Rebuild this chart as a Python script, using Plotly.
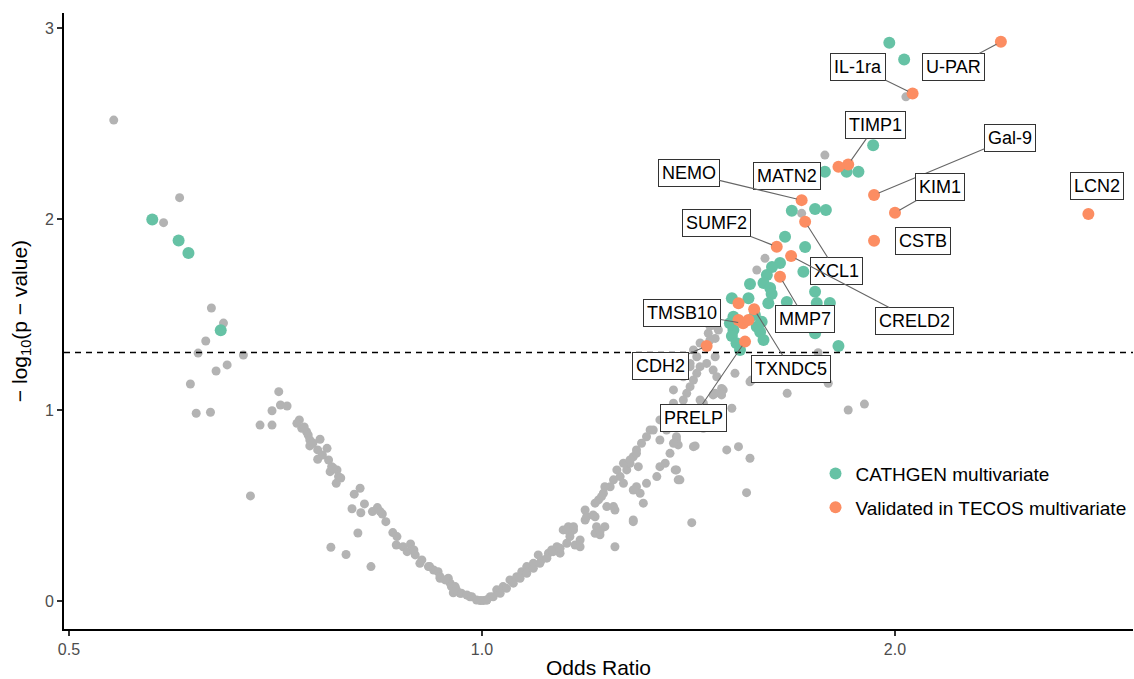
import numpy as np
import plotly.graph_objects as go

# ---------------- data ----------------
gray_or = [
    0.539, 0.602, 0.586, 0.635, 0.648, 0.629, 0.621, 0.670, 0.652, 0.640,
    0.613, 0.619, 0.634, 0.678, 0.711, 0.703, 0.689, 0.703, 0.713, 0.721,
    0.736, 0.733, 0.739, 0.745, 0.747, 0.749, 0.762, 0.749, 0.759, 0.771,
    0.759, 0.773, 0.777, 0.775, 0.784, 0.786, 0.783, 0.815, 0.807, 0.821,
    0.804, 0.816, 0.832, 0.839, 0.846, 0.851, 0.812, 0.776, 0.796, 0.830,
    0.861, 0.867, 0.866, 0.876, 0.887, 0.882, 0.894, 0.901, 0.904, 0.916,
    0.922, 0.929, 0.932, 0.945, 0.948, 0.956, 0.964, 0.953, 0.980, 0.997,
    1.008, 0.892, 0.843, 0.914, 0.932, 0.940, 0.950, 0.958, 0.966, 0.975,
    0.983, 0.991, 0.742, 0.753, 0.765, 0.779, 0.789,
    1.002, 1.014, 1.025, 1.036, 1.048, 1.060, 1.069, 1.078, 1.090, 1.099,
    1.105, 1.118, 1.124, 1.134, 1.140, 1.146, 1.156, 1.166, 1.159, 1.169,
    1.179, 1.189, 1.189, 1.209, 1.209, 1.219, 1.229, 1.216, 1.226, 1.240,
    1.233, 1.250, 1.247, 1.261, 1.268, 1.275, 1.282, 1.289, 1.296, 1.307,
    1.318, 1.326, 1.296, 1.304, 1.289, 1.318, 1.289, 1.250, 1.300,
    1.008, 1.019, 1.031, 1.042, 1.054, 1.066, 1.078, 1.090, 1.102, 1.115,
    1.127, 1.140, 1.153, 1.159, 1.153, 1.166, 1.179, 1.192, 1.205, 1.212,
    1.219, 1.209, 1.222, 1.229, 1.247, 1.289, 1.254, 1.268, 1.282, 1.296,
    1.333, 1.348, 1.363, 1.379, 1.386, 1.390, 1.348, 1.341, 1.386, 1.390,
    1.311, 1.430, 1.422, 1.508, 1.450, 1.474, 1.499, 1.379, 1.402, 1.418,
    1.426,
    1.462, 1.442, 1.434, 1.426, 1.418, 1.410, 1.402, 1.394, 1.379, 1.363,
    1.348, 1.466, 1.479, 1.458, 1.474, 1.483, 1.479, 1.442, 1.450, 1.521,
    1.418, 1.406, 1.394, 1.386, 1.379, 1.371, 1.360, 1.394, 1.383, 1.426,
    1.538, 1.568, 1.559, 1.529, 1.568, 1.495, 1.495, 1.483, 1.487, 1.479,
    1.572, 1.434, 1.418, 1.402, 1.466, 1.442,
    1.778, 2.037, 1.710, 1.608, 1.586, 1.758, 1.788, 1.669, 1.849, 1.900,
]
gray_y = [
    2.518, 2.112, 1.981, 1.534, 1.455, 1.361, 1.298, 1.288, 1.236, 1.204,
    1.136, 0.983, 0.988, 0.550, 1.096, 0.996, 0.921, 0.921, 1.026, 1.021,
    0.948, 0.930, 0.904, 0.886, 0.869, 0.843, 0.847, 0.812, 0.791, 0.799,
    0.742, 0.738, 0.703, 0.677, 0.686, 0.651, 0.616, 0.590, 0.559, 0.508,
    0.483, 0.462, 0.468, 0.489, 0.455, 0.415, 0.356, 0.281, 0.243, 0.180,
    0.358, 0.337, 0.293, 0.284, 0.298, 0.258, 0.241, 0.197, 0.215, 0.180,
    0.162, 0.153, 0.119, 0.119, 0.093, 0.075, 0.040, 0.043, 0.022, 0.002,
    0.005, 0.267, 0.468, 0.180, 0.127, 0.110, 0.075, 0.058, 0.040, 0.031,
    0.022, 0.005, 0.911, 0.827, 0.764, 0.696, 0.644,
    0.002, 0.022, 0.058, 0.075, 0.110, 0.127, 0.153, 0.180, 0.197, 0.241,
    0.215, 0.250, 0.267, 0.284, 0.250, 0.372, 0.389, 0.372, 0.337, 0.293,
    0.284, 0.476, 0.424, 0.441, 0.354, 0.346, 0.389, 0.529, 0.564, 0.598,
    0.494, 0.476, 0.634, 0.651, 0.616, 0.686, 0.721, 0.755, 0.791, 0.826,
    0.860, 0.895, 0.598, 0.564, 0.581, 0.616, 0.424, 0.284, 0.703,
    0.005, 0.022, 0.040, 0.066, 0.093, 0.119, 0.145, 0.171, 0.197, 0.224,
    0.258, 0.276, 0.302, 0.354, 0.372, 0.389, 0.319, 0.441, 0.450, 0.389,
    0.363, 0.512, 0.546, 0.598, 0.494, 0.415, 0.686, 0.721, 0.738, 0.773,
    0.895, 0.948, 0.983, 1.035, 0.843, 0.817, 0.703, 0.651, 0.686, 0.634,
    0.512, 0.812, 0.410, 0.791, 0.904, 1.079, 1.105, 1.105, 1.209, 1.244,
    1.314,
    1.402, 1.227, 1.192, 1.157, 1.122, 1.087, 1.052, 1.000, 0.948, 0.895,
    0.843, 1.366, 1.279, 1.244, 1.209, 1.174, 1.087, 1.052, 1.035, 1.009,
    0.983, 0.956, 0.913, 0.860, 0.826, 0.773, 0.721, 0.634, 0.686, 0.808,
    0.808, 0.747, 0.567, 1.192, 1.148, 1.113, 1.079, 1.436, 1.419, 1.375,
    1.157, 1.279, 1.227, 1.174, 1.440, 1.351,
    2.335, 2.640, 2.030, 1.794, 1.733, 1.300, 1.140, 1.087, 1.000, 1.031,
]

cathgen_or = [
    1.981, 2.031, 1.928, 1.778, 1.844, 1.881, 1.682, 1.749, 1.781, 1.663,
    1.720, 1.649, 1.627, 1.715, 1.613, 1.604, 1.568, 1.622, 1.626, 1.749,
    1.668, 1.754, 1.793, 1.754, 1.749, 1.749, 1.819, 1.617, 1.521, 1.564,
    1.516, 1.525, 1.521, 1.533, 1.542, 1.586, 1.595, 1.604, 1.599, 1.525,
    1.581, 0.575, 0.601, 0.611, 0.645,
]
cathgen_y = [
    2.923, 2.836, 2.387, 2.248, 2.248, 2.248, 2.043, 2.052, 2.047, 1.907,
    1.853, 1.770, 1.749, 1.724, 1.707, 1.665, 1.660, 1.639, 1.607, 1.619,
    1.565, 1.560, 1.560, 1.506, 1.454, 1.402, 1.335, 1.559, 1.585, 1.585,
    1.454, 1.419, 1.387, 1.349, 1.314, 1.436, 1.408, 1.366, 1.462, 1.488,
    1.497, 1.998, 1.888, 1.822, 1.417,
]

tecos_or = [
    2.389, 2.060, 1.931, 2.000, 1.931, 2.767, 1.849, 1.819, 1.710, 1.720,
    1.640, 1.680, 1.649, 1.579, 1.538, 1.550, 1.538, 1.564, 1.555, 1.458,
]
tecos_y = [
    2.928, 2.658, 2.126, 2.033, 1.886, 2.026, 2.286, 2.274, 2.099, 1.986,
    1.855, 1.806, 1.698, 1.527, 1.559, 1.454, 1.471, 1.471, 1.358, 1.335,
]

# labels: name, point index in tecos arrays, label position, segment shown
label_names = ["U-PAR", "IL-1ra", "Gal-9", "KIM1", "CSTB", "LCN2", "TIMP1",
               "MATN2", "NEMO", "XCL1", "SUMF2", "CRELD2", "MMP7", "TXNDC5",
               "TMSB10", "PRELP", "CDH2"]
label_point = [0, 1, 2, 3, 4, 5, 6, 7, 8, 9, 10, 11, 12, 13, 15, 18, 19]
label_or = [2.208, 1.880, 2.426, 2.157, 2.096, 2.807, 1.937, 1.668, 1.415,
            1.812, 1.483, 2.068, 1.720, 1.680, 1.399, 1.425, 1.350]
label_y = [2.796, 2.796, 2.424, 2.168, 1.885, 2.173, 2.492, 2.225, 2.241,
           1.728, 1.979, 1.466, 1.476, 1.215, 1.508, 0.958, 1.230]
label_seg = [True, True, True, True, False, False, True, False, True, True,
             True, True, True, True, True, True, True]

p_threshold = 0.05
x_ticks = [0.5, 1.0, 2.0]
x_ticktext = ["0.5", "1.0", "2.0"]
y_ticks = [0, 1, 2, 3]

GRAY = "#B3B3B3"
GREEN = "#66C2A5"
ORANGE = "#FC8D62"
FONT = "Liberation Sans, Arial, sans-serif"

fig = go.Figure()
fig.add_trace(go.Scatter(x=gray_or, y=gray_y, mode="markers",
                         marker=dict(size=9, color=GRAY),
                         showlegend=False, hoverinfo="skip"))
fig.add_trace(go.Scatter(x=cathgen_or, y=cathgen_y, mode="markers",
                         marker=dict(size=12, color=GREEN),
                         name="CATHGEN multivariate", legendgroup="a",
                         hoverinfo="skip"))
fig.add_trace(go.Scatter(x=tecos_or, y=tecos_y, mode="markers",
                         marker=dict(size=12, color=ORANGE),
                         name="Validated in TECOS multivariate", legendgroup="b",
                         hoverinfo="skip"))

fig.add_hline(y=-np.log10(p_threshold), line=dict(color="black", width=1.4, dash="6px,5px"))

for name, pi, lo, ly, seg in zip(label_names, label_point, label_or, label_y, label_seg):
    common = dict(text=name, font=dict(family=FONT, size=18, color="black"),
                  bgcolor="white", bordercolor="#333333", borderwidth=1, borderpad=3)
    if seg:
        fig.add_annotation(x=np.log10(tecos_or[pi]), y=tecos_y[pi],
                           ax=np.log10(lo), ay=ly, axref="x", ayref="y",
                           showarrow=True, arrowhead=0, arrowwidth=1.1,
                           arrowcolor="#666666", standoff=5, **common)
    else:
        fig.add_annotation(x=np.log10(lo), y=ly, showarrow=False, **common)

fig.update_layout(
    width=1134, height=679,
    margin=dict(l=64, r=1, t=13, b=50),
    plot_bgcolor="white", paper_bgcolor="white",
    font=dict(family=FONT),
    legend=dict(x=0.703, y=0.283, xanchor="left", yanchor="top",
                font=dict(size=19, color="black"), tracegroupgap=6,
                bgcolor="rgba(0,0,0,0)"),
)
fig.update_xaxes(type="log", range=[-0.30467, 0.47452],
                 tickvals=x_ticks, ticktext=x_ticktext,
                 showline=True, linecolor="black", linewidth=2,
                 ticks="outside", ticklen=5, tickcolor="#333333", tickwidth=1.5,
                 tickfont=dict(size=16, color="#4D4D4D"),
                 showgrid=False, zeroline=False,
                 title=dict(text="Odds Ratio", font=dict(size=21, color="black"), standoff=4))
fig.update_yaxes(range=[-0.147, 3.079], tickvals=y_ticks,
                 showline=True, linecolor="black", linewidth=2,
                 ticks="outside", ticklen=5, tickcolor="#333333", tickwidth=1.5,
                 tickfont=dict(size=16, color="#4D4D4D"),
                 showgrid=False, zeroline=False,
                 title=dict(text="\u2212 log<sub>10</sub>(p \u2212 value)",
                            font=dict(size=21, color="black"), standoff=12))

fig.write_html("out.html")
